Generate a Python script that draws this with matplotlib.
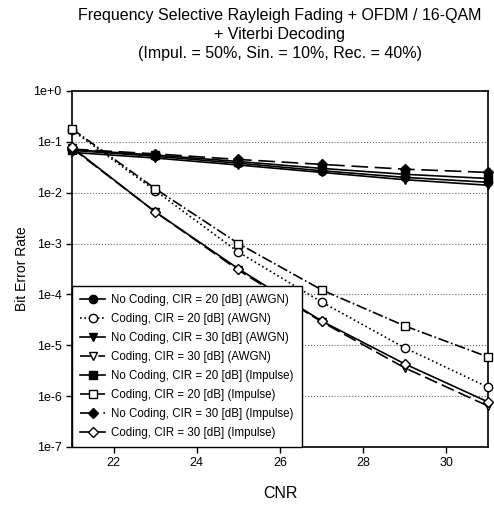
import matplotlib
matplotlib.use("Agg")
import matplotlib.pyplot as plt

plt.rcParams["font.family"] = ["Liberation Sans", "DejaVu Sans"]

cnr = [21, 23, 25, 27, 29, 31]

labels = [
    "No Coding, CIR = 20 [dB] (AWGN)",
    "Coding, CIR = 20 [dB] (AWGN)",
    "No Coding, CIR = 30 [dB] (AWGN)",
    "Coding, CIR = 30 [dB] (AWGN)",
    "No Coding, CIR = 20 [dB] (Impulse)",
    "Coding, CIR = 20 [dB] (Impulse)",
    "No Coding, CIR = 30 [dB] (Impulse)",
    "Coding, CIR = 30 [dB] (Impulse)",
]

nocod_20_awgn = [0.068, 0.052, 0.038, 0.027, 0.020, 0.016]
cod_20_awgn = [0.17, 0.011, 6.8e-4, 7.1e-5, 8.9e-6, 1.5e-6]
nocod_30_awgn = [0.062, 0.048, 0.035, 0.025, 0.018, 0.014]
cod_30_awgn = [0.075, 0.0042, 3.0e-4, 2.9e-5, 3.6e-6, 6.4e-7]
nocod_20_imp = [0.070, 0.055, 0.041, 0.030, 0.023, 0.019]
cod_20_imp = [0.18, 0.012, 1.0e-3, 1.23e-4, 2.4e-5, 5.9e-6]
nocod_30_imp = [0.072, 0.058, 0.045, 0.036, 0.029, 0.025]
cod_30_imp = [0.078, 0.0042, 3.2e-4, 3.0e-5, 4.3e-6, 7.7e-7]

series = [nocod_20_awgn, cod_20_awgn, nocod_30_awgn, cod_30_awgn,
          nocod_20_imp, cod_20_imp, nocod_30_imp, cod_30_imp]

# (marker, filled, linestyle)
styles = [
    ("o", True, "-"),
    ("o", False, ":"),
    ("v", True, "-"),
    ("v", False, (0, (8, 3))),
    ("s", True, "-"),
    ("s", False, "-."),
    ("D", True, (0, (10, 4))),
    ("D", False, "-"),
]

fig = plt.figure(figsize=(4.94, 5.05), dpi=100)
ax = fig.add_axes([0.1457, 0.1149, 0.842, 0.705])

for lab, vals, (m, filled, ls) in zip(labels, series, styles):
    ax.plot(cnr, vals, color="black", linestyle=ls, linewidth=1.2,
            marker=m, markersize=6 if m != "D" else 5,
            markerfacecolor="black" if filled else "white",
            markeredgecolor="black", markeredgewidth=1.0,
            label=lab, clip_on=False, zorder=3)

ax.set_yscale("log")
ax.set_ylim(1e-7, 1e0)
ax.set_xlim(21, 31)
ax.set_xticks([22, 24, 26, 28, 30])
ax.set_yticks([10.0 ** -k for k in range(8)])
ax.set_yticklabels(["1e+0"] + [f"1e-{k}" for k in range(1, 8)])
ax.minorticks_off()
ax.tick_params(axis="both", direction="out", length=4, width=1,
               labelsize=9, colors="black")
ax.yaxis.grid(True, linestyle=":", color="#666666", linewidth=0.8)
ax.xaxis.grid(False)
for sp in ax.spines.values():
    sp.set_linewidth(1.2)

ax.set_xlabel("CNR", fontsize=11.5, labelpad=12)
ax.set_ylabel("Bit Error Rate", fontsize=10, labelpad=3)
ax.set_title("Frequency Selective Rayleigh Fading + OFDM / 16-QAM\n"
             "+ Viterbi Decoding\n"
             "(Impul. = 50%, Sin. = 10%, Rec. = 40%)",
             fontsize=11.5, pad=24, linespacing=1.3)

leg = ax.legend(loc="lower left", bbox_to_anchor=(0, 0), borderaxespad=0,
                fontsize=8.3, frameon=True, fancybox=False, handlelength=2.2,
                labelspacing=0.6, borderpad=0.7, handletextpad=0.5)
leg.get_frame().set_edgecolor("black")
leg.get_frame().set_linewidth(1.0)
leg.get_frame().set_alpha(1)
leg.set_zorder(5)

fig.savefig("out.png", dpi=100)
